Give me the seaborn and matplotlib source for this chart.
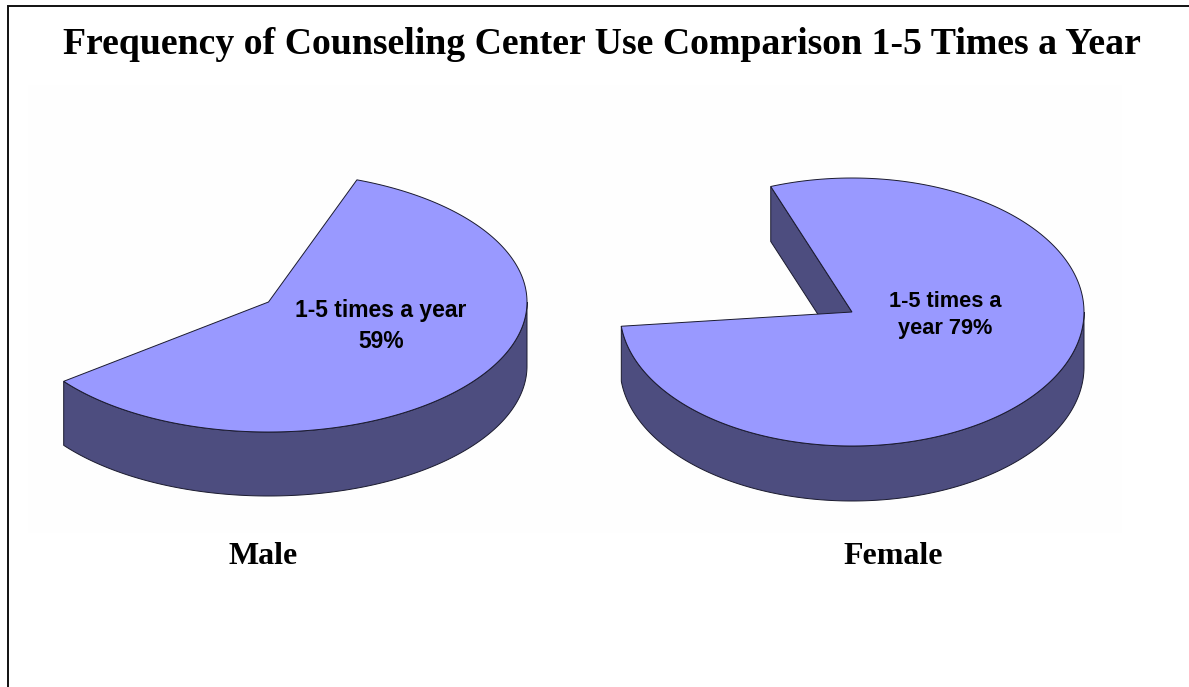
"""Two faux-3D pies comparing counseling center use by gender."""

import matplotlib

matplotlib.use("Agg")

import matplotlib.pyplot as plt
import numpy as np
import seaborn as sns
from matplotlib.patches import Polygon, Rectangle

WIDTH, HEIGHT = 1189, 687

genders = ["Male", "Female"]
shares = [59, 79]
slice_labels = ["1-5 times a year\n59%", "1-5 times a\nyear 79%"]

TOP_COLOR = "#9999FF"
SIDE_COLOR = "#4D4D7F"
EDGE_COLOR = "#1A1A2E"
SANS = ["Liberation Sans", "DejaVu Sans"]


def ellipse_points(cx, cy, rx, ry, start, stop):
    t = np.radians(np.linspace(start, stop, 240))
    return np.column_stack([cx + rx * np.cos(t), cy - ry * np.sin(t)])


def draw_pie(ax, share, cx, cy, rx, ry, depth, start_angle):
    sweep = share / 100 * 360
    stop_angle = start_angle - sweep
    rim = ellipse_points(cx, cy, rx, ry, start_angle, stop_angle)
    center = np.array([[cx, cy]])
    shift = np.array([0, depth])

    # outer wall, only the front half of the rim can be seen
    front = ellipse_points(cx, cy, rx, ry, 0, max(stop_angle, -180))
    wall = np.vstack([front, (front + shift)[::-1]])
    ax.add_patch(Polygon(wall, facecolor=SIDE_COLOR, edgecolor=EDGE_COLOR, linewidth=0.7))

    # cut face at the start of the slice, hidden when it points backwards
    if start_angle > 90:
        cut = np.vstack([rim[:1], center, center + shift, rim[:1] + shift])
        ax.add_patch(Polygon(cut, facecolor=SIDE_COLOR, edgecolor=EDGE_COLOR, linewidth=0.7))

    top = np.vstack([center, rim])
    ax.add_patch(Polygon(top, facecolor=TOP_COLOR, edgecolor=EDGE_COLOR, linewidth=0.7))


sns.set_theme(style="white")
plt.rcParams["font.family"] = ["Liberation Serif", "DejaVu Serif"]
plt.rcParams["text.color"] = "black"

fig = plt.figure(figsize=(WIDTH / 100, HEIGHT / 100), dpi=100)
ax = fig.add_axes([0, 0, 1, 1])
ax.set_xlim(0, WIDTH)
ax.set_ylim(HEIGHT, 0)
ax.axis("off")

# frame runs off the right and bottom edges of the picture
ax.add_patch(Rectangle((8, 6), 1300, 800, facecolor="white", edgecolor="#111111", linewidth=1.4))
ax.add_patch(Rectangle((28, 85), 1094, 448, facecolor="#FEFEFE", edgecolor="none"))

ax.text(601.5, 45, "Frequency of Counseling Center Use Comparison 1-5 Times a Year",
        ha="center", va="center", fontsize=27.15, fontweight="bold")

draw_pie(ax, shares[0], 268.5, 302, 258.5, 130, 64, 70)
draw_pie(ax, shares[1], 852, 312, 232, 134, 55, 110.5)

ax.text(381, 326, slice_labels[0], ha="center", va="center", fontsize=16.5, fontweight="bold",
        family=SANS, linespacing=1.45)
ax.text(945.5, 315, slice_labels[1], ha="center", va="center", fontsize=15.7, fontweight="bold",
        family=SANS, linespacing=1.43)

ax.text(263, 557, genders[0], ha="center", va="center", fontsize=23, fontweight="bold")
ax.text(893.5, 557, genders[1], ha="center", va="center", fontsize=23, fontweight="bold")

fig.savefig("out.png", dpi=100)
plt.close(fig)
